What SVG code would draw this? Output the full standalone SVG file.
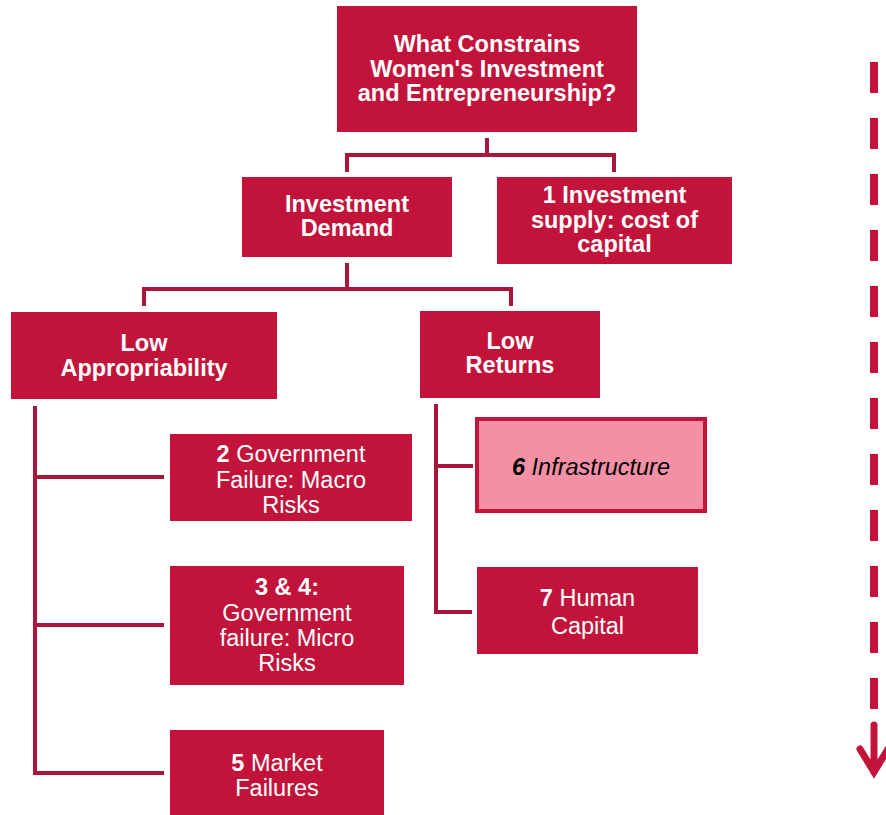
<svg xmlns="http://www.w3.org/2000/svg" width="886" height="815" viewBox="0 0 886 815">
<style>
.box{fill:#C2133B;}
.hl{fill:#F490A6;stroke:#C2133B;stroke-width:4;}
.t{font-family:"Liberation Sans",Arial,sans-serif;font-size:23.5px;fill:#fff;text-anchor:middle;}
.b{font-weight:bold;}
.k{fill:#000;font-style:italic;}
.ln{fill:none;stroke:#A9163B;stroke-width:4;stroke-linejoin:miter;}
</style>
<rect width="886" height="815" fill="#fff"/>
<g id="connectors">
<path class="ln" d="M487,138V155M345,155H616M347,153V172M614,153V172"/>
<path class="ln" d="M347,263V289M142,289H513M144,287V306M511,287V306"/>
<path class="ln" d="M35,406V775M33,477H164M35,625H164M33,773H164"/>
<path class="ln" d="M436,404V614M434,466H473M434,612H472"/>
</g>
<g id="n0"><rect class="box" x="337" y="6" width="300" height="126"/>
<text class="t b" x="487"><tspan x="487" y="52">What Constrains</tspan><tspan x="487" y="77">Women's Investment</tspan><tspan x="487" y="101">and Entrepreneurship?</tspan></text></g>
<g id="n1"><rect class="box" x="242" y="177" width="210" height="80"/>
<text class="t b"><tspan x="347" y="212">Investment</tspan><tspan x="347" y="236">Demand</tspan></text></g>
<g id="n2"><rect class="box" x="497" y="177" width="235" height="87"/>
<text class="t b"><tspan x="614.5" y="203">1 Investment</tspan><tspan x="614.5" y="228">supply: cost of</tspan><tspan x="614.5" y="252">capital</tspan></text></g>
<g id="n3"><rect class="box" x="11" y="312" width="266" height="87"/>
<text class="t b"><tspan x="144" y="351">Low</tspan><tspan x="144" y="376">Appropriability</tspan></text></g>
<g id="n4"><rect class="box" x="420" y="311" width="180" height="87"/>
<text class="t b"><tspan x="510" y="349">Low</tspan><tspan x="510" y="373">Returns</tspan></text></g>
<g id="n5"><rect class="box" x="170" y="434" width="242" height="87"/>
<text class="t"><tspan x="291" y="462"><tspan class="b">2</tspan> Government</tspan><tspan x="291" y="488">Failure: Macro</tspan><tspan x="291" y="513">Risks</tspan></text></g>
<g id="n6"><rect class="box" x="170" y="566" width="234" height="119"/>
<text class="t"><tspan class="b" x="287" y="595">3 &amp; 4:</tspan><tspan x="287" y="621">Government</tspan><tspan x="287" y="646">failure: Micro</tspan><tspan x="287" y="671">Risks</tspan></text></g>
<g id="n7"><rect class="box" x="170" y="730" width="214" height="85"/>
<text class="t"><tspan x="277" y="771"><tspan class="b">5</tspan> Market</tspan><tspan x="277" y="796">Failures</tspan></text></g>
<g id="n8"><rect class="hl" x="477" y="419" width="228" height="92"/>
<text class="t k" x="591" y="475"><tspan class="b">6</tspan> Infrastructure</text></g>
<g id="n9"><rect class="box" x="477" y="567" width="221" height="87"/>
<text class="t"><tspan x="587.5" y="606"><tspan class="b">7</tspan> Human</tspan><tspan x="587.5" y="634">Capital</tspan></text></g>
<g id="arrow">
<line x1="874" y1="62" x2="874" y2="710" stroke="#C2133B" stroke-width="8" stroke-dasharray="31 25"/>
<path d="M874,725V772M860,749L874,772L888,749" fill="none" stroke="#C2133B" stroke-width="7" stroke-linecap="round" stroke-linejoin="miter"/>
</g>
</svg>
